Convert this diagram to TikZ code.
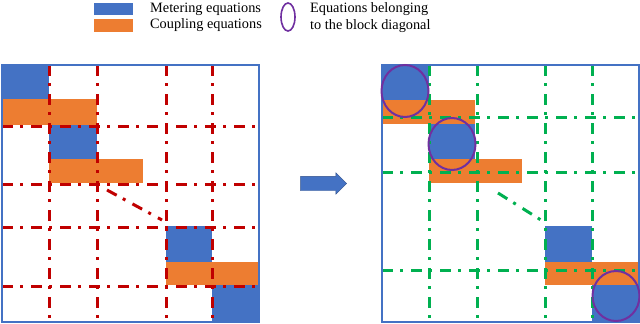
\documentclass[tikz,border=0pt]{standalone}
\usepackage{fontspec}
\setmainfont{Liberation Serif}
\usepackage{tikz}
\usetikzlibrary{positioning,shapes.arrows}

\definecolor{metblue}{HTML}{4472C4}
\definecolor{coupor}{HTML}{ED7D31}
\definecolor{gridred}{HTML}{C00000}
\definecolor{gridgreen}{HTML}{00B050}
\definecolor{diagpurple}{HTML}{7030A0}

\begin{document}
\begin{tikzpicture}[x=1pt, y=-1pt, font=\fontsize{14.3}{17}\selectfont,
  metering/.style={fill=metblue},
  coupling/.style={fill=coupor},
  frame/.style={draw=metblue, line width=2pt},
  redline/.style={draw=gridred, line width=3pt, dash pattern=on 11pt off 7pt on 3pt off 8pt},
  greenline/.style={draw=gridgreen, line width=3pt, dash pattern=on 11pt off 7pt on 3pt off 8pt},
  diagring/.style={draw=diagpurple, line width=2pt},
  key/.style={inner sep=0pt, minimum width=39pt, minimum height=12.5pt}]
\useasboundingbox (0,0) rectangle (640,324);
% legend
\node[key, metering] (kmet) at (113.5,9) {};
\node[key, coupling] (kcou) at (113.5,25.5) {};
\node[anchor=west, inner sep=0pt] (tmet) at (150,9) {Metering equations};
\node[anchor=west, inner sep=0pt] (tcou) at (150,25.5) {Coupling equations};
\draw[diagring, line width=1.6pt] (288,17) ellipse [x radius=7pt, y radius=14pt];
\node[anchor=west, inner sep=0pt, align=left] (tdiag) at (310,17.5) {Equations belonging\\to the block diagonal};
% left matrix
\fill[metering] (2,65) rectangle (49,99);
\fill[coupling] (2,99) rectangle (97,125);
\fill[metering] (49,125) rectangle (97,159);
\fill[coupling] (49,159) rectangle (143,183);
\fill[metering] (166,226) rectangle (212,262);
\fill[coupling] (166,262) rectangle (259,285);
\fill[metering] (212,285) rectangle (259,322);
\foreach \x in {49,97,166,212}
  \draw[redline] (\x,65) -- (\x,322);
\foreach \y in {126,184,227,286}
  \draw[redline] (2,\y) -- (259,\y);
\draw[redline] (107,190) -- (162,220);
\draw[frame] (2,65) rectangle (259,322);
% arrow
\node[single arrow, fill=metblue, draw=metblue!70!black, line width=0.4pt,
  minimum height=46pt, single arrow head extend=3.5pt,
  single arrow head indent=0pt, inner sep=0pt] (step) at (320,183.5) {\rule{0pt}{14pt}};
% right matrix
\fill[metering] (382,65) rectangle (429,100);
\fill[coupling] (382,100) rectangle (475,124);
\fill[metering] (429,124) rectangle (475,159);
\fill[coupling] (429,159) rectangle (522,183);
\fill[metering] (545,226) rectangle (592,262);
\fill[coupling] (545,262) rectangle (639,285);
\fill[metering] (592,285) rectangle (639,322);
\foreach \x in {429,477,545,592}
  \draw[greenline] (\x,65) -- (\x,322);
\foreach \y in {117,172,270}
  \draw[greenline] (382,\y) -- (639,\y);
\draw[greenline] (498,193) -- (541,220);
\draw[frame] (382,65) rectangle (638.5,322);
\draw[diagring] (405,91) ellipse [x radius=23.5pt, y radius=26pt];
\draw[diagring] (452,144) ellipse [x radius=23.5pt, y radius=26pt];
\draw[diagring] (616,296) ellipse [x radius=23.5pt, y radius=25pt];
\end{tikzpicture}
\end{document}
